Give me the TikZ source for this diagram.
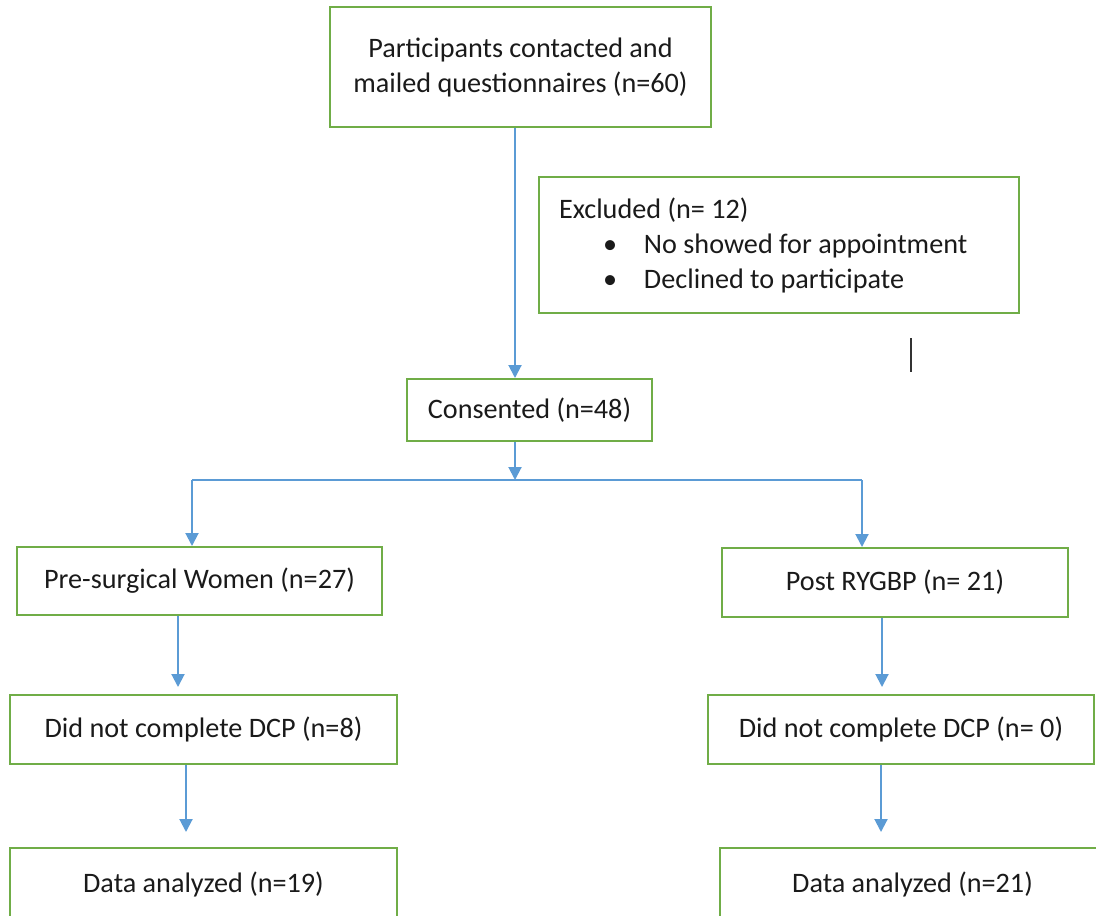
\documentclass[tikz,border=0pt]{standalone}
\usepackage{fontspec}
\setmainfont{Carlito}
\usetikzlibrary{arrows.meta}
\definecolor{bxgreen}{HTML}{70AD47}
\definecolor{arblue}{HTML}{5B9BD5}
\definecolor{txt}{HTML}{1A1A1A}
\begin{document}
\begin{tikzpicture}[x=0.5pt,y=-0.5pt,
  box/.style={draw=bxgreen,line width=1pt,inner sep=0pt,
    font=\fontsize{14.1}{17.5}\selectfont,align=center,text=txt},
  arr/.style={draw=arblue,line width=1pt,-{Triangle[width=6.5pt,length=6.5pt]}},
  lin/.style={draw=arblue,line width=1pt}]
\useasboundingbox (0,0) rectangle (1096,915);
% boxes
\node[box,minimum width=190.5pt,minimum height=60pt] (n1) at (520.5,67)
  {Participants contacted and\\mailed questionnaires (n=60)};
\node[box,minimum height=68pt,text width=220pt,inner xsep=10pt,align=flush left] (excl) at (779,245)
  {Excluded (n= 12)\\
   \hspace*{22pt}\makebox[20.5pt][l]{\textbullet}No showed for appointment\\
   \hspace*{22pt}\makebox[20.5pt][l]{\textbullet}Declined to participate};
\node[box,minimum width=122.5pt,minimum height=31pt] (cons) at (529.5,410) {Consented (n=48)};
\node[box,minimum width=182.5pt,minimum height=34pt] (pre) at (199.5,581) {Pre-surgical Women (n=27)};
\node[box,minimum width=173pt,minimum height=34.5pt] (post) at (895,582.5) {Post RYGBP (n= 21)};
\node[box,minimum width=193.5pt,minimum height=34.5pt] (dncl) at (203.5,729.5) {Did not complete DCP (n=8)};
\node[box,minimum width=193pt,minimum height=34.5pt] (dncr) at (901,729.5) {Did not complete DCP (n= 0)};
\node[box,minimum width=193.5pt,minimum height=36pt] (datal) at (203.5,884) {Data analyzed (n=19)};
\node[box,minimum width=192.5pt,minimum height=36pt] (datar) at (912.5,884) {Data analyzed (n=21)};
% connector x positions
\coordinate (xa) at (515,0);
\coordinate (xl) at (192,0);
\coordinate (xr) at (862,0);
\coordinate (xl2) at (178,0);
\coordinate (xl3) at (186,0);
\coordinate (xr2) at (882,0);
\coordinate (xr3) at (881,0);
\coordinate (split) at (515,480);
\coordinate (bl) at (192,480);
\coordinate (br) at (862,480);
% connectors
\draw[arr] (n1.south -| xa) -- (cons.north -| xa);
\draw[arr] (cons.south -| xa) -- (split);
\draw[lin] (bl) -- (br);
\draw[arr] (bl) -- (pre.north -| xl);
\draw[arr] (br) -- (post.north -| xr);
\draw[arr,shorten >=3.5pt] (pre.south -| xl2) -- (dncl.north -| xl2);
\draw[arr,shorten >=7.5pt] (dncl.south -| xl3) -- (datal.north -| xl3);
\draw[arr,shorten >=3.5pt] (post.south -| xr2) -- (dncr.north -| xr2);
\draw[arr,shorten >=7.5pt] (dncr.south -| xr3) -- (datar.north -| xr3);
% stray mark
\coordinate (m1) at (911,338);
\coordinate (m2) at (911,372);
\draw[line width=1pt,black!80] (m1) -- (m2);
\end{tikzpicture}
\end{document}
